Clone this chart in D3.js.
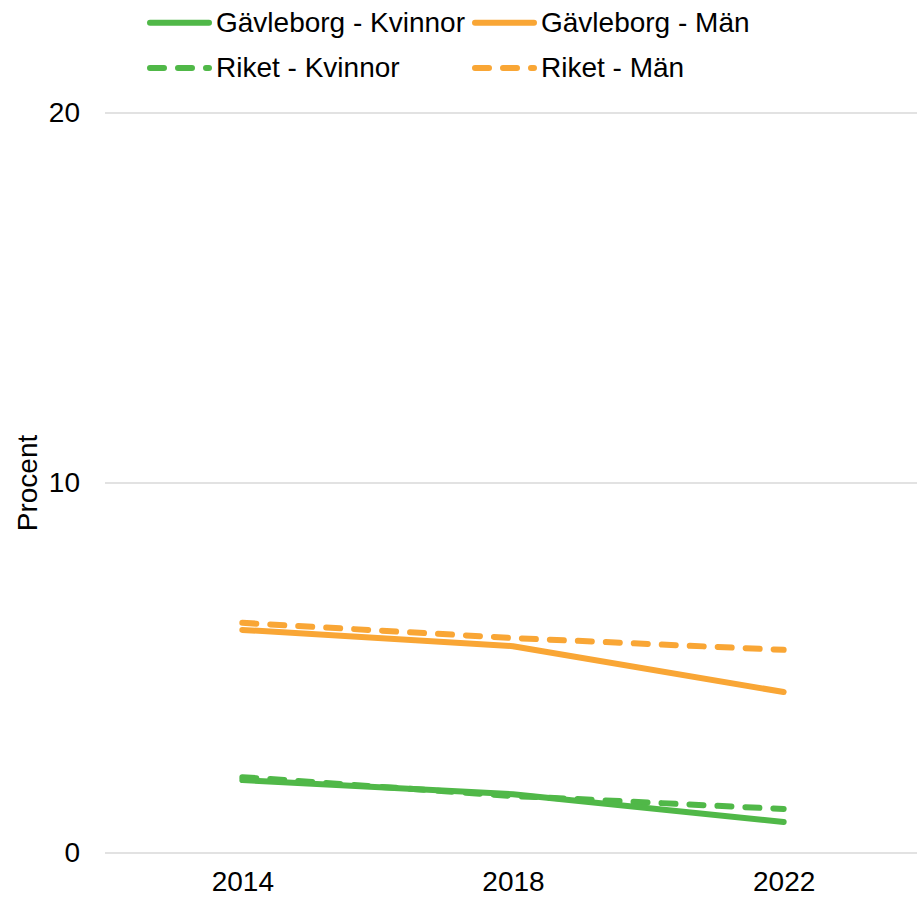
<!DOCTYPE html>
<html>
<head>
<meta charset="utf-8">
<script src="https://cdn.jsdelivr.net/npm/d3@7"></script>
<style>
  html, body { margin: 0; padding: 0; background: #fff; }
  svg { display: block; font-family: "Liberation Sans", Arial, sans-serif; }
</style>
</head>
<body>
<svg id="chart" width="919" height="899"></svg>
<script>
const years = ["2014", "2018", "2022"];
const seriesNames = ["Gävleborg - Kvinnor", "Gävleborg - Män", "Riket - Kvinnor", "Riket - Män"];
const gavleborgKvinnor = [1.97, 1.59, 0.84];
const gavleborgMan = [6.03, 5.59, 4.35];
const riketKvinnor = [2.05, 1.54, 1.19];
const riketMan = [6.22, 5.81, 5.49];
const yTicks = [0, 10, 20];

const seriesValues = [gavleborgKvinnor, gavleborgMan, riketKvinnor, riketMan];
const seriesColors = ["#50B848", "#F9A635", "#50B848", "#F9A635"];
const seriesDashed = [false, false, true, true];

const svg = d3.select("#chart");
const x = d3.scalePoint().domain(years).range([107, 919]).padding(0.5);
const y = d3.scaleLinear().domain([0, 20]).range([853, 113]);

// gridlines
svg.append("g").selectAll("line").data(yTicks).join("line")
  .attr("x1", 105).attr("x2", 917)
  .attr("y1", d => y(d)).attr("y2", d => y(d))
  .attr("stroke", "#d9d9d9").attr("stroke-width", 1.5);

// y axis labels
const yAxis = d3.axisLeft(y).tickValues(yTicks).tickSize(0).tickPadding(0);
const gy = svg.append("g").attr("transform", "translate(80,0)").call(yAxis);
gy.select(".domain").remove();
gy.selectAll("text").attr("font-size", 28).attr("fill", "#000")
  .attr("font-family", "Liberation Sans, Arial, sans-serif");

// x axis labels
const xAxis = d3.axisBottom(x).tickSize(0).tickPadding(0);
const gx = svg.append("g").attr("transform", "translate(0,871)").call(xAxis);
gx.select(".domain").remove();
gx.selectAll("text").attr("font-size", 28).attr("fill", "#000").attr("dy", "0.71em")
  .attr("font-family", "Liberation Sans, Arial, sans-serif");

// y title
svg.append("text").attr("transform", "translate(37,483) rotate(-90)")
  .attr("text-anchor", "middle").attr("font-size", 28).attr("fill", "#000")
  .text("Procent");

// lines
const line = d3.line().x((d, i) => x(years[i])).y(d => y(d));
const order = [3, 1, 2, 0];
order.forEach(s => {
  svg.append("path").datum(seriesValues[s])
    .attr("d", line)
    .attr("fill", "none")
    .attr("stroke", seriesColors[s])
    .attr("stroke-width", 6)
    .attr("stroke-linecap", "round")
    .attr("stroke-linejoin", "round")
    .attr("stroke-dasharray", seriesDashed[s] ? "14,14" : null);
});

// legend
const legendPos = [
  {lx: 150, ly: 22.7, tx: 216, ty: 32},
  {lx: 475, ly: 22.7, tx: 541, ty: 32},
  {lx: 150, ly: 68, tx: 216, ty: 77},
  {lx: 475, ly: 68, tx: 541, ty: 77}
];
const lg = svg.append("g");
seriesNames.forEach((name, s) => {
  const p = legendPos[s];
  lg.append("line")
    .attr("x1", p.lx).attr("x2", p.lx + 59)
    .attr("y1", p.ly).attr("y2", p.ly)
    .attr("stroke", seriesColors[s]).attr("stroke-width", 6)
    .attr("stroke-linecap", "round")
    .attr("stroke-dasharray", seriesDashed[s] ? "14,14" : null);
  lg.append("text").attr("x", p.tx).attr("y", p.ty)
    .attr("font-size", 28).attr("fill", "#000").text(name);
});
</script>
</body>
</html>
